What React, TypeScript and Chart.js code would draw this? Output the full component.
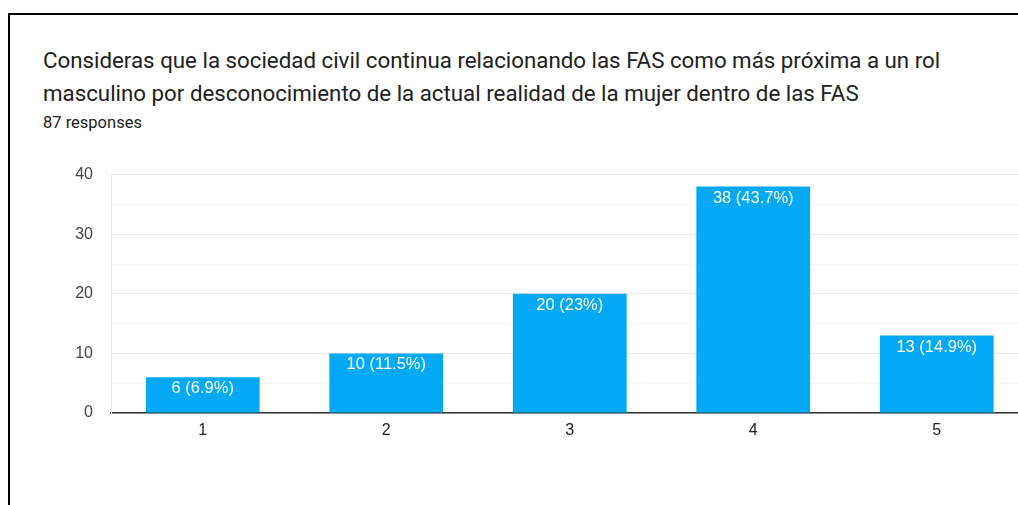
import React, { useEffect, useRef } from "react";
import { Chart, registerables } from "chart.js";

Chart.register(...registerables);

const titleLine1 =
  "Consideras que la sociedad civil continua relacionando las FAS como más próxima a un rol";
const titleLine2 =
  "masculino por desconocimiento de la actual realidad de la mujer dentro de las FAS";
const responsesText = "87 responses";

const categories = ["1", "2", "3", "4", "5"];
const counts = [6, 10, 20, 38, 13];
const percentLabels = ["6.9%", "11.5%", "23%", "43.7%", "14.9%"];
const yMax = 40;
const yStep = 5;
const yLabelStep = 10;

const BAR_COLOR = "#03a9f4";
const TICK_FONT = "'Liberation Sans', Arial, sans-serif";

const barLabelPlugin = {
  id: "barLabels",
  afterDatasetsDraw(chart: any) {
    const ctx = chart.ctx;
    const meta = chart.getDatasetMeta(0);
    ctx.save();
    ctx.fillStyle = "#ffffff";
    ctx.font = `16.5px ${TICK_FONT}`;
    ctx.textAlign = "center";
    ctx.textBaseline = "middle";
    meta.data.forEach((bar: any, i: number) => {
      const text = `${counts[i]} (${percentLabels[i]})`;
      ctx.fillText(text, bar.x, bar.y + 11.5);
    });
    ctx.restore();
  },
};

export default function App() {
  const canvasRef = useRef<HTMLCanvasElement | null>(null);

  useEffect(() => {
    if (!canvasRef.current) return;
    const chart = new Chart(canvasRef.current, {
      type: "bar",
      data: {
        labels: categories,
        datasets: [
          {
            data: counts,
            backgroundColor: BAR_COLOR,
            borderWidth: 0,
            categoryPercentage: 1,
            barPercentage: 0.62,
          },
        ],
      },
      options: {
        animation: false,
        responsive: true,
        maintainAspectRatio: false,
        layout: { padding: { top: 20, right: 11.5, left: 0, bottom: 0 } },
        plugins: {
          legend: { display: false },
          tooltip: { enabled: false },
          title: { display: false },
        },
        scales: {
          x: {
            z: 1,
            grid: { display: false, drawTicks: false },
            border: { display: true, color: "#333333", width: 1.5 },
            ticks: {
              color: "#222222",
              font: { family: TICK_FONT, size: 16 },
              padding: 8,
            },
            afterFit(scale: any) {
              scale.height = 37;
            },
          },
          y: {
            min: 0,
            max: yMax,
            grid: {
              drawTicks: false,
              color: (c: any) =>
                c.tick && c.tick.value % yLabelStep === 0 ? "#e8e8e8" : "#f4f4f4",
            },
            border: { display: true, color: "#e8e8e8", width: 1 },
            ticks: {
              stepSize: yStep,
              padding: 18,
              color: "#444444",
              font: { family: TICK_FONT, size: 16 },
              callback: (v: any) => (Number(v) % yLabelStep === 0 ? String(v) : ""),
            },
            afterFit(scale: any) {
              scale.width = 101;
            },
          },
        },
      },
      plugins: [barLabelPlugin],
    });
    return () => chart.destroy();
  }, []);

  return (
    <div
      style={{
        position: "fixed",
        left: 0,
        top: 0,
        width: "100vw",
        height: "100vh",
        overflow: "hidden",
        background: "#ffffff",
      }}
    >
      <div
        style={{
          position: "absolute",
          left: 8,
          top: 13,
          width: 1100,
          height: 600,
          border: "2px solid #000000",
          boxSizing: "border-box",
        }}
      />
      <div
        style={{
          position: "absolute",
          left: 43,
          top: 44,
          fontFamily: "Roboto, 'Noto Sans', sans-serif",
          fontSize: 22.3,
          lineHeight: "33px",
          color: "#202124",
          whiteSpace: "nowrap",
        }}
      >
        <div>{titleLine1}</div>
        <div>{titleLine2}</div>
      </div>
      <div
        style={{
          position: "absolute",
          left: 43,
          top: 113,
          fontFamily: "Roboto, 'Noto Sans', sans-serif",
          fontSize: 16.5,
          color: "#202124",
          whiteSpace: "nowrap",
        }}
      >
        {responsesText}
      </div>
      <div
        style={{
          position: "absolute",
          left: 10,
          top: 147,
          width: 1030,
          height: 303,
        }}
      >
        <canvas ref={canvasRef} />
      </div>
    </div>
  );
}
